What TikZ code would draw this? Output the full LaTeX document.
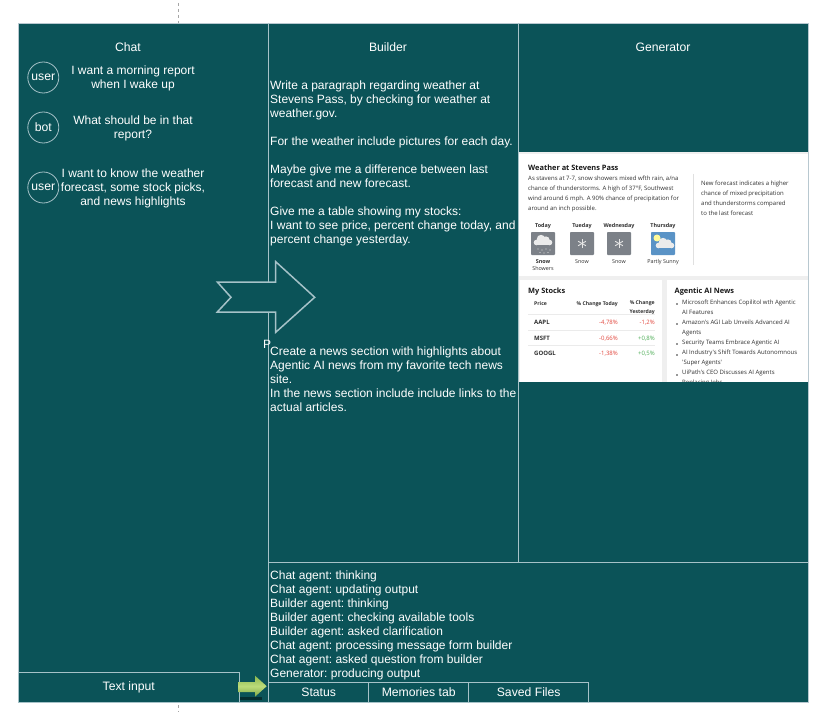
\documentclass[tikz,border=0pt]{standalone}
\usepackage{fontspec}
\setmainfont{Liberation Sans}
\newfontfamily\cardfont{Open Sans}
\usetikzlibrary{calc}
\definecolor{teal0}{HTML}{0B5358}
\definecolor{lineC}{HTML}{A6C2C8}
\definecolor{edgeC}{HTML}{B8C8D0}
\definecolor{grayBg}{HTML}{EFEFEF}
\definecolor{cardTxt}{HTML}{303030}
\definecolor{redV}{HTML}{E2483F}
\definecolor{greenV}{HTML}{4FAE58}
\definecolor{iconG}{HTML}{7C8188}
\definecolor{iconB}{HTML}{5A93C6}
\definecolor{arrTop}{HTML}{8CB84F}
\definecolor{arrMid}{HTML}{BCDC7A}
\definecolor{arrBot}{HTML}{7FA845}
\tikzset{
  panel/.style={draw=lineC,line width=0.8pt,fill=teal0},
  maintxt/.style={text=white,inner sep=0pt,anchor=north west,align=left,font=\frenchspacing\fontsize{12}{14}\selectfont},
  ctitle/.style={text=white,inner sep=0pt,anchor=center,align=center,font=\fontsize{12.2}{14}\selectfont},
  chattxt/.style={text=white,inner sep=0pt,anchor=center,align=center,font=\fontsize{12}{14}\selectfont},
  avatar/.style={circle,draw=lineC,line width=0.8pt,text=white,inner sep=0pt,minimum size=31pt,font=\fontsize{12.2}{14}\selectfont},
  tabbox/.style={draw=lineC,line width=0.8pt,anchor=north west,inner sep=0pt,minimum height=20pt,text=white,font=\fontsize{12.2}{14}\selectfont},
  cardhead/.style={text=black!90,inner sep=0pt,anchor=base west,font=\cardfont\fontsize{7.4}{9}\bfseries\selectfont},
  cardbody/.style={text=cardTxt,inner sep=0pt,anchor=north west,align=left,font=\cardfont\fontsize{6}{10}\selectfont},
  daytop/.style={text=cardTxt,inner sep=0pt,anchor=base,font=\cardfont\fontsize{5.4}{7}\bfseries\selectfont},
  daybot/.style={text=cardTxt,inner sep=0pt,anchor=base,align=center,font=\cardfont\fontsize{5.4}{7}\selectfont},
  stockh/.style={text=cardTxt,inner sep=0pt,font=\cardfont\fontsize{5.1}{9}\bfseries\selectfont},
  stockn/.style={text=cardTxt,inner sep=0pt,anchor=base west,font=\cardfont\fontsize{6}{8}\bfseries\selectfont},
  stockv/.style={inner sep=0pt,anchor=base east,font=\cardfont\fontsize{6}{8}\selectfont},
  newsitem/.style={text=cardTxt,inner sep=0pt,anchor=north west,align=left,font=\cardfont\fontsize{6}{10}\selectfont},
  wicon/.style={rounded corners=0.8pt},
  flake/.style={draw=white!90!black,line width=0.9pt},
}
\newcommand{\cloudshape}[2]{%
  \fill[white!92!black] (#1-6.5,#2+2.5) circle (2.8pt) (#1-2,#2-1) circle (4.2pt) (#1+3,#2) circle (3.6pt) (#1+6.5,#2+2.5) circle (2.8pt);
  \fill[white!92!black] (#1-6.5,#2+1) rectangle (#1+6.5,#2+5.3);}
\newcommand{\snowflake}[2]{%
  \foreach \a in {30,90,150} {\draw[flake] ($(#1,#2)+(\a:4.5pt)$) -- ($(#1,#2)+(\a+180:4.5pt)$);}}
\begin{document}
\begin{tikzpicture}[x=1pt,y=-1pt]
\useasboundingbox (0,0) rectangle (819,714);
\fill[white] (0,0) rectangle (819,714);
% guide marks
\coordinate (gt1) at (178.5,3); \coordinate (gt2) at (178.5,23);
\coordinate (gb1) at (178.5,705); \coordinate (gb2) at (178.5,712);
\draw[black!35,dashed,line width=0.5pt] (gt1) -- (gt2);
\draw[black!35,dashed,line width=0.5pt] (gb1) -- (gb2);
% panels
\node[panel,draw=edgeC,line width=1pt,anchor=north west,inner sep=0pt,minimum width=790pt,minimum height=679pt] (outer) at (18,23) {};
\draw[lineC,line width=0.8pt] (268.3,23) -- (268.3,702);
\draw[lineC,line width=0.8pt] (518.3,23) -- (518.3,562.5);
\draw[lineC,line width=0.8pt] (268.3,562.5) -- (808,562.5);
% generator report
\fill[grayBg] (519,152) rectangle (807.5,382);
\fill[white] (519,154) rectangle (807.5,276);
\fill[white] (520,280) rectangle (662,382);
\fill[white] (667,280) rectangle (807.5,382);
\node[cardhead] (wtitle) at (528,170.5) {Weather at Stevens Pass};
\node[cardbody,anchor=north west] (wbody) at (528,176) {As stavens at 7-7, snow showers mixed wfth rain, a/na\\chance of thunderstorms. A high of 37°F, Southwest\\wind around 6 mph. A 90\% chance of precipitation for\\around an inch possible.};
\draw[black!12,line width=0.6pt] (693.3,174) -- (693.3,265);
\node[cardbody] (wdiff) at (701,180.5) {New forecast indicates a higher\\chance of mixed precipitation\\and thunderstorms compared\\to the last forecast};
\node[daytop] (d1) at (543,227) {Today};
\node[daytop] (d2) at (582,227) {Tueday};
\node[daytop] (d3) at (619,227) {Wednesday};
\node[daytop] (d4) at (663,227) {Thursday};
\fill[iconG,wicon] (531,232) rectangle (555,255);
\cloudshape{543}{240}
\foreach \p/\q in {538/249,542/250,546/249,550/250,540/252.5,544/253,548/252.5}{\fill[white!85!black] (\p,\q) circle (0.6pt);}
\fill[iconG,wicon] (570,232) rectangle (594,255);
\snowflake{582}{243.5}
\fill[iconG,wicon] (607,232) rectangle (631,255);
\snowflake{619}{243.5}
\fill[iconB,wicon] (651,232) rectangle (675,255);
\fill[yellow!40!white] (657,238) circle (3.5pt);
\cloudshape{665}{243}
\node[daybot,font=\cardfont\fontsize{5.4}{7}\bfseries\selectfont] (l1) at (543,263.5) {Snow};
\node[daybot] (l1b) at (543,270.5) {Showers};
\node[daybot] (l2) at (582,263.5) {Snow};
\node[daybot] (l3) at (619,263.5) {Snow};
\node[daybot] (l4) at (663,263.5) {Partly Sunny};
% stocks
\node[cardhead] (stitle) at (528,293.5) {My Stocks};
\node[stockh,anchor=base west] (h1) at (534,305.5) {Price};
\node[stockh,anchor=base east] (h2) at (618,305.5) {\% Change Today};
\node[stockh,anchor=north east,align=center] (h3) at (655,300.5) {\% Change\\Yesterday};
\draw[black!8,line width=0.5pt] (528,314.5) -- (655,314.5);
\draw[black!8,line width=0.5pt] (528,330) -- (655,330);
\draw[black!8,line width=0.5pt] (528,345.5) -- (655,345.5);
\node[stockn] (s1) at (534,324.5) {AAPL};
\node[stockn] (s2) at (534,340) {MSFT};
\node[stockn] (s3) at (534,355.5) {GOOGL};
\node[stockv,text=redV] (a1) at (618,324.5) {-4,78\%};
\node[stockv,text=redV] (b1) at (655,324.5) {-1,2\%};
\node[stockv,text=redV] (a2) at (618,340) {-0,66\%};
\node[stockv,text=greenV] (b2) at (655,340) {+0,8\%};
\node[stockv,text=redV] (a3) at (618,355.5) {-1,38\%};
\node[stockv,text=greenV] (b3) at (655,355.5) {+0,5\%};
% news
\node[cardhead] (ntitle) at (674.5,293.5) {Agentic AI News};
\foreach \yy in {304,324,344,355,375}{\fill[cardTxt] (677,\yy) circle (0.8pt);}
\node[newsitem] (n1) at (682,299.5) {Microsoft Enhances Copilitol wth Agentic\\AI Features};
\node[newsitem] (n2) at (682,319.5) {Amazon's AGI Lab Unveils Advanced AI\\Agents};
\node[newsitem] (n3) at (682,339.5) {Security Teams Embrace Agentic AI};
\node[newsitem] (n4) at (682,350) {AI Industry's Shift Towards Autonomnous\\'Super Agents'};
\node[newsitem] (n5) at (682,370) {UiPath's CEO Discusses AI Agents\\Replacing Jobs};
% cover below report
\fill[teal0] (519,382) rectangle (807.5,562);
\draw[lineC,line width=0.8pt] (518.3,382) -- (518.3,562.5);
\draw[lineC,line width=0.8pt] (518.3,562.5) -- (808,562.5);
% titles
\node[ctitle] (tchat) at (128,47.5) {Chat};
\node[ctitle] (tbuilder) at (388,47.5) {Builder};
\node[ctitle] (tgen) at (663,47.5) {Generator};
% chat
\node[avatar] (u1) at (43.3,77.5) {\raisebox{-0.8pt}{user}};
\node[avatar] (b1a) at (43.3,127.5) {\raisebox{-0.8pt}{bot}};
\node[avatar] (u2) at (43.3,187.5) {\raisebox{-0.8pt}{user}};
\node[chattxt] (m1) at (133,78.8) {I want a morning report\\when I wake up};
\node[chattxt] (m2) at (133,128.8) {What should be in that\\report?};
\node[chattxt] (m3) at (133,188) {I want to know the weather\\forecast, some stock picks,\\and news highlights};
% builder
\node[maintxt] (w1) at (270,81) {Write a paragraph regarding weather at\\Stevens Pass, by checking for weather at\\weather.gov.};
\node[maintxt] (w2) at (270,137) {For the weather include pictures for each day.};
\node[maintxt] (w3) at (270,165) {Maybe give me a difference between last\\forecast and new forecast.};
\node[maintxt] (w4) at (270,207) {Give me a table showing my stocks:\\I want to see price, percent change today, and\\percent change yesterday.};
\node[maintxt] (w5) at (270,347) {Create a news section with highlights about\\Agentic AI news from my favorite tech news\\site.\\In the news section include include links to the\\actual articles.};
\node[maintxt] (pp) at (263,340.5) {P};
% big arrow
\draw[fill=teal0,draw=lineC,line width=1.5pt,miter limit=10]
  (217.3,282) -- (275.7,282) -- (275.7,261.7) -- (314.7,297.3) -- (275.7,332.3) -- (275.7,312) -- (217.3,312) -- (231,297.3) -- cycle;
% status log
\node[maintxt] (log) at (270,571) {Chat agent: thinking\\Chat agent: updating output\\Builder agent: thinking\\Builder agent: checking available tools\\Builder agent: asked clarification\\Chat agent: processing message form builder\\Chat agent: asked question from builder\\Generator: producing output};
% tabs
\node[tabbox,minimum width=100pt] (tab1) at (268.3,682) {Status};
\node[tabbox,minimum width=100pt] (tab2) at (368.3,682) {Memories tab};
\node[tabbox,minimum width=120pt] (tab3) at (468.3,682) {Saved Files};
% text input
\node[tabbox,minimum width=220.7pt,minimum height=30pt] (tinput) at (18,672) {\raisebox{-0.8pt}{Text input}};
% green arrow
\fill[black!45!teal0] (240,697) rectangle (262,700);
\shade[top color=arrTop,bottom color=arrBot,middle color=arrMid] (238,682) -- (255,682) -- (255,675.7) -- (266.7,686.2) -- (255,696.7) -- (255,692) -- (238,692) -- cycle;
\end{tikzpicture}
\end{document}
